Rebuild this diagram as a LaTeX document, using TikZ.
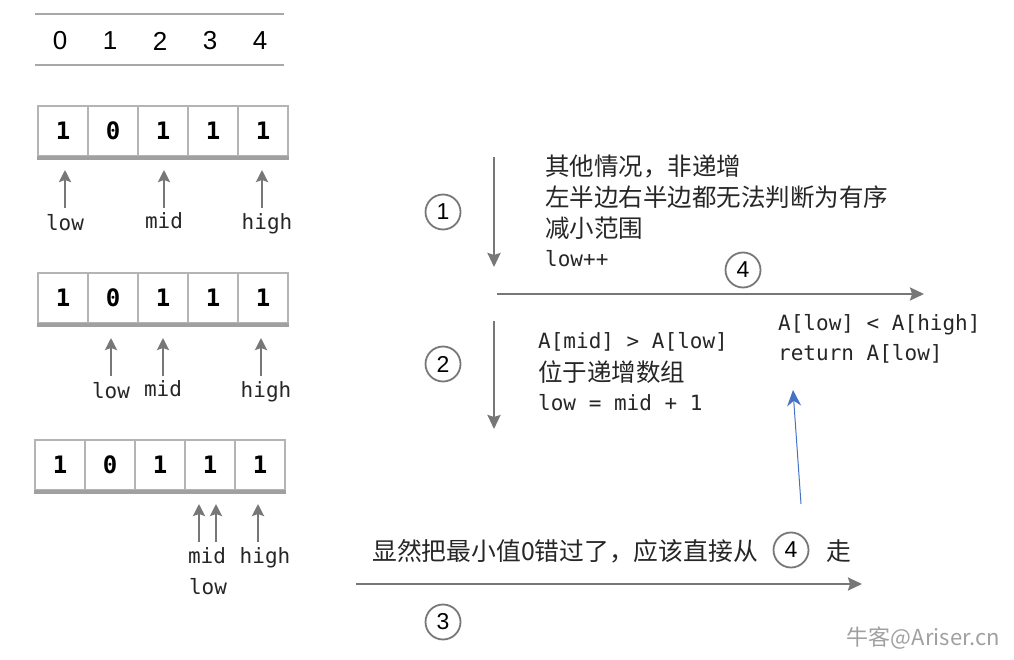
\documentclass[tikz,border=0pt]{standalone}
\usepackage{fontspec}
\setmonofont{DejaVu Sans Mono}
\newfontfamily\cjk{Noto Sans CJK SC}
\newfontfamily\idxfont{Liberation Sans}
\usetikzlibrary{arrows.meta}
\definecolor{arrg}{HTML}{777777}
\definecolor{cellg}{HTML}{B4B4B4}
\definecolor{barg}{HTML}{A0A0A0}
\definecolor{rulg}{HTML}{A8A8A8}
\definecolor{linkblue}{HTML}{4472C4}
\definecolor{wmg}{HTML}{A0A0A0}
\begin{document}
\begin{tikzpicture}[x=1pt,y=-1pt,
  cell/.style={draw=cellg, line width=2pt, minimum width=50pt, minimum height=50pt, inner sep=0pt,
    font=\ttfamily\bfseries\fontsize{24}{24}\selectfont},
  idx/.style={inner sep=0pt, font=\idxfont\fontsize{26}{26}\selectfont},
  ptr/.style={inner sep=0pt, font=\ttfamily\fontsize{21}{21}\selectfont, text=black!85},
  uparr/.style={draw=arrg, line width=2.4pt, -{Stealth[length=12pt,width=12pt,inset=2pt]}},
  bigarr/.style={draw=arrg, line width=2.4pt, -{Stealth[length=14pt,width=13pt,inset=2pt]}},
  step circle/.style={circle, draw=arrg, line width=1.8pt, minimum size=35pt, inner sep=0pt,
    font=\idxfont\fontsize{23}{23}\selectfont},
  cjktext/.style={inner sep=0pt, anchor=west, font=\cjk\fontsize{24.5}{24.5}\selectfont, text=black!85},
  codetext/.style={inner sep=0pt, anchor=west, font=\ttfamily\fontsize{21}{21}\selectfont, text=black!85},
  rulestyle/.style={draw=rulg, line width=2.5pt}
]
\useasboundingbox (0,0) rectangle (1014,660);

% index header
\coordinate (r1a) at (35,14); \coordinate (r1b) at (284,14);
\coordinate (r2a) at (35,65); \coordinate (r2b) at (284,65);
\draw[rulestyle] (r1a) -- (r1b);
\draw[rulestyle] (r2a) -- (r2b);
\foreach \i in {0,...,4} { \node[idx] (i\i) at (60+50*\i,41) {\i}; }

% array 1
\foreach \v [count=\k from 0] in {1,0,1,1,1} { \node[cell] (a\k) at (63+50*\k,131) {\v}; }
\draw[draw=barg, line width=4pt] ([yshift=-1pt]a0.south west) -- ([yshift=-1pt]a4.south east);
\coordinate (p1s) at (65,208); \coordinate (p1e) at (65,170);
\coordinate (p2s) at (164,208); \coordinate (p2e) at (164,170);
\coordinate (p3s) at (262,208); \coordinate (p3e) at (262,170);
\draw[uparr] (p1s) -- (p1e);
\draw[uparr] (p2s) -- (p2e);
\draw[uparr] (p3s) -- (p3e);
\node[ptr] (l1) at (65,223) {low};
\node[ptr] (m1) at (164,221) {mid};
\node[ptr] (h1) at (267,224) {high};

% array 2
\foreach \v [count=\k from 0] in {1,0,1,1,1} { \node[cell] (b\k) at (63+50*\k,298) {\v}; }
\draw[draw=barg, line width=4pt] ([yshift=-1pt]b0.south west) -- ([yshift=-1pt]b4.south east);
\coordinate (q1s) at (111,376); \coordinate (q1e) at (111,338);
\coordinate (q2s) at (163,376); \coordinate (q2e) at (163,338);
\coordinate (q3s) at (261,376); \coordinate (q3e) at (261,338);
\draw[uparr] (q1s) -- (q1e);
\draw[uparr] (q2s) -- (q2e);
\draw[uparr] (q3s) -- (q3e);
\node[ptr] (l2) at (111,391) {low};
\node[ptr] (m2) at (163,389) {mid};
\node[ptr] (h2) at (266,392) {high};

% array 3
\foreach \v [count=\k from 0] in {1,0,1,1,1} { \node[cell] (c\k) at (60+50*\k,465) {\v}; }
\draw[draw=barg, line width=4pt] ([yshift=-1pt]c0.south west) -- ([yshift=-1pt]c4.south east);
\coordinate (s1s) at (199,542); \coordinate (s1e) at (199,504);
\coordinate (s2s) at (216,542); \coordinate (s2e) at (216,504);
\coordinate (s3s) at (258,542); \coordinate (s3e) at (258,504);
\draw[uparr] (s1s) -- (s1e);
\draw[uparr] (s2s) -- (s2e);
\draw[uparr] (s3s) -- (s3e);
\node[ptr] (m3) at (207,556) {mid};
\node[ptr] (l3) at (208,587) {low};
\node[ptr] (h3) at (265,558) {high};

% step 1
\node[step circle] (c1) at (443,212) {1};
\coordinate (d1s) at (494,157); \coordinate (d1e) at (494,267);
\draw[bigarr] (d1s) -- (d1e);
\node[cjktext] (t11) at (545,166) {其他情况，非递增};
\node[cjktext] (t12) at (545,197) {左半边右半边都无法判断为有序};
\node[cjktext] (t13) at (545,228) {减小范围};
\node[codetext] (t14) at (545,259) {low++};

% step 4 (top)
\node[step circle] (c4a) at (743,270) {4};
\coordinate (h4s) at (497,294); \coordinate (h4e) at (924,294);
\draw[bigarr] (h4s) -- (h4e);

% step 2
\node[step circle] (c2) at (443,364) {2};
\coordinate (d2s) at (494,321); \coordinate (d2e) at (494,429);
\draw[bigarr] (d2s) -- (d2e);
\node[codetext] (t21) at (538,342) {A[mid] > A[low]};
\node[cjktext] (t22) at (538,372) {位于递增数组};
\node[codetext] (t23) at (538,403) {low = mid + 1};

% result
\node[codetext] (t41) at (778,325) {A[low] < A[high]};
\node[codetext] (t42) at (778,354) {return A[low]};
\coordinate (bls) at (801,504); \coordinate (ble) at (793,390);
\draw[draw=linkblue, line width=1pt, -{Stealth[length=16pt,width=14pt]}] (bls) -- (ble);

% step 3
\node[cjktext, font=\cjk\fontsize{24.8}{24.8}\selectfont] (t31) at (372,551) {显然把最小值0错过了，应该直接从};
\node[step circle] (c4b) at (791,550) {4};
\node[cjktext, font=\cjk\fontsize{24.8}{24.8}\selectfont] (t32) at (826,551) {走};
\coordinate (h3s) at (356,584); \coordinate (h3e) at (862,584);
\draw[bigarr] (h3s) -- (h3e);
\node[step circle] (c3) at (443,622) {3};

% watermark
\node[inner sep=0pt, anchor=east, font=\cjk\fontsize{22}{22}\selectfont, text=wmg] (wm) at (1000,638) {牛客@Ariser.cn};
\end{tikzpicture}
\end{document}
